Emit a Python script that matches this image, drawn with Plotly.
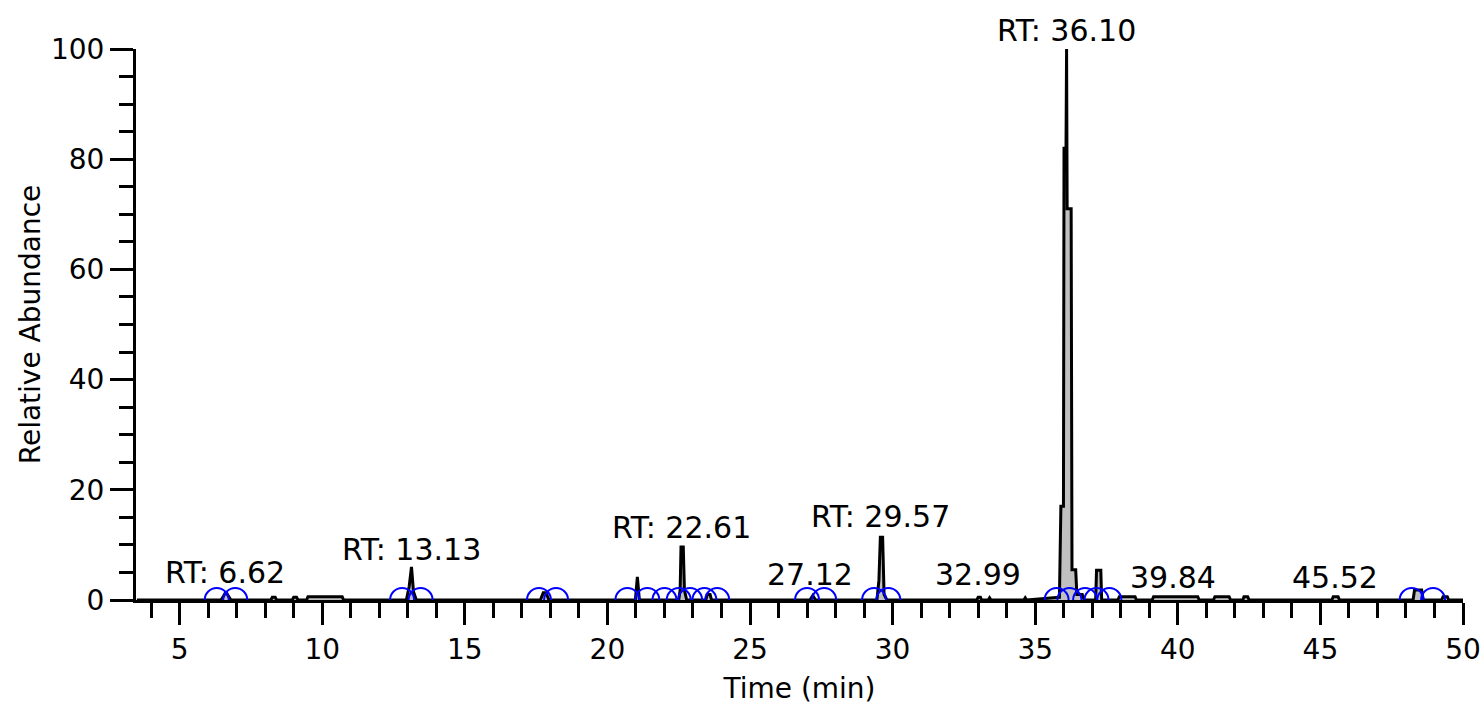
import plotly.graph_objects as go

# Chromatogram (time in min, relative abundance in %)
time_min = [3.5, 6.45, 6.55, 6.62, 6.7, 6.8,
            8.2, 8.25, 8.35, 8.4, 8.95, 9.0, 9.1, 9.15,
            9.45, 9.5, 10.7, 10.75,
            12.95, 13.05, 13.13, 13.2, 13.3,
            17.65, 17.75, 17.85, 17.95,
            20.98, 21.05, 21.12,
            22.5, 22.55, 22.58, 22.66, 22.7, 22.78,
            23.45, 23.5, 23.6, 23.65,
            27.1, 27.2, 27.3,
            29.45, 29.52, 29.57, 29.65, 29.7, 29.8,
            32.95, 33.0, 33.08, 33.12, 33.35, 33.4, 33.45,
            34.6, 34.65, 34.7,
            35.85, 35.9, 35.99, 36.01, 36.08, 36.1, 36.12, 36.26, 36.29, 36.42, 36.46,
            36.55, 36.65, 36.72,
            37.12, 37.15, 37.3, 37.33,
            37.9, 37.95, 38.5, 38.55,
            39.1, 39.15, 40.7, 40.75,
            41.25, 41.3, 41.8, 41.85,
            42.28, 42.32, 42.45, 42.5,
            45.4, 45.45, 45.62, 45.67,
            48.25, 48.3, 48.55, 48.6,
            49.25, 49.3, 49.45, 49.5, 50.0]
abundance = [0, 0, 0.8, 1.5, 0.8, 0,
             0, 0.5, 0.5, 0, 0, 0.5, 0.5, 0,
             0, 0.6, 0.6, 0,
             0, 2.5, 6.0, 1.5, 0,
             0, 1.3, 1.3, 0,
             0, 4.2, 0,
             0, 1.8, 9.6, 9.6, 1.8, 0,
             0, 1.0, 1.0, 0,
             0, 0.8, 0,
             0, 3.6, 11.4, 11.4, 1.0, 0,
             0, 0.5, 0.5, 0, 0, 0.4, 0,
             0, 0.4, 0,
             0.5, 17, 17, 82, 82, 100, 71, 71, 5.5, 5.5, 1.0,
             1.0, 1.0, 0,
             0, 5.4, 5.4, 0,
             0, 0.6, 0.6, 0,
             0, 0.6, 0.6, 0,
             0, 0.6, 0.6, 0,
             0, 0.6, 0.6, 0,
             0, 0.6, 0.6, 0,
             0, 1.8, 1.8, 0,
             0, 0.6, 0.6, 0, 0]

# Peak integration start/end markers
marker_times = [6.3, 6.95, 12.8, 13.45, 17.6, 18.2, 20.7, 21.4,
                22.0, 22.5, 22.9, 23.4, 23.85, 27.0, 27.6, 29.35, 29.85,
                35.75, 36.2, 36.75, 37.15, 37.6, 48.2, 48.95]
marker_levels = [0] * len(marker_times)

# Peak labels
label_texts = ["RT: 6.62", "RT: 13.13", "RT: 22.61", "RT: 29.57", "27.12",
               "32.99", "39.84", "45.52", "RT: 36.10"]
label_x = [6.6, 13.12, 22.6, 29.57, 27.1, 33.0, 39.82, 45.5, 36.1]
label_y = [5.0, 9.1, 13.2, 15.1, 4.7, 4.7, 4.0, 4.0, 103.4]

x_ticks = [5, 10, 15, 20, 25, 30, 35, 40, 45, 50]
y_ticks = [0, 20, 40, 60, 80, 100]
Y_MAX = 100

FONT = "DejaVu Sans"

fig = go.Figure()
fig.add_trace(go.Scatter(
    x=time_min, y=abundance, mode="lines",
    line=dict(color="black", width=3),
    fill="tozeroy", fillcolor="#C0C0C0",
    hoverinfo="skip"))
fig.add_trace(go.Scatter(
    x=marker_times, y=marker_levels, mode="markers",
    marker=dict(symbol="circle-open", size=24, color="#0000FF",
                line=dict(width=2, color="#0000FF")),
    cliponaxis=True, hoverinfo="skip"))

for t, x, y in zip(label_texts, label_x, label_y):
    fig.add_annotation(x=x, y=y / Y_MAX, yref="y domain", text=t,
                       showarrow=False, xanchor="center", yanchor="middle",
                       font=dict(family=FONT, size=30, color="black"))

axis_common = dict(showgrid=False, zeroline=False, showline=True,
                   linewidth=3, linecolor="black", ticks="outside",
                   tickwidth=3, tickcolor="black",
                   tickfont=dict(family=FONT, size=28, color="black"))

fig.update_xaxes(range=[3.47, 50.0], tickmode="array", tickvals=x_ticks,
                 ticktext=[str(v) for v in x_ticks], ticklen=22,
                 minor=dict(ticks="outside", dtick=1, tick0=0, ticklen=15,
                            tickwidth=3, tickcolor="black", showgrid=False),
                 title=dict(text="Time (min)", standoff=14,
                            font=dict(family=FONT, size=28, color="black")),
                 **axis_common)
fig.update_yaxes(range=[0, Y_MAX], tickmode="array", tickvals=y_ticks,
                 ticktext=[str(v) for v in y_ticks], ticklen=23,
                 minor=dict(ticks="outside", dtick=5, tick0=0, ticklen=14,
                            tickwidth=3, tickcolor="black", showgrid=False),
                 title=dict(text="Relative Abundance", standoff=3,
                            font=dict(family=FONT, size=28, color="black")),
                 **axis_common)

fig.update_layout(width=1483, height=707,
                  margin=dict(l=136, r=20, t=49, b=107, autoexpand=False),
                  plot_bgcolor="white", paper_bgcolor="white",
                  showlegend=False,
                  font=dict(family=FONT, size=28, color="black"))

fig.write_html("out.html",
               config={"displayModeBar": False},
               post_script="document.body.style.margin='0';"
                           "document.body.style.overflow='hidden';")
